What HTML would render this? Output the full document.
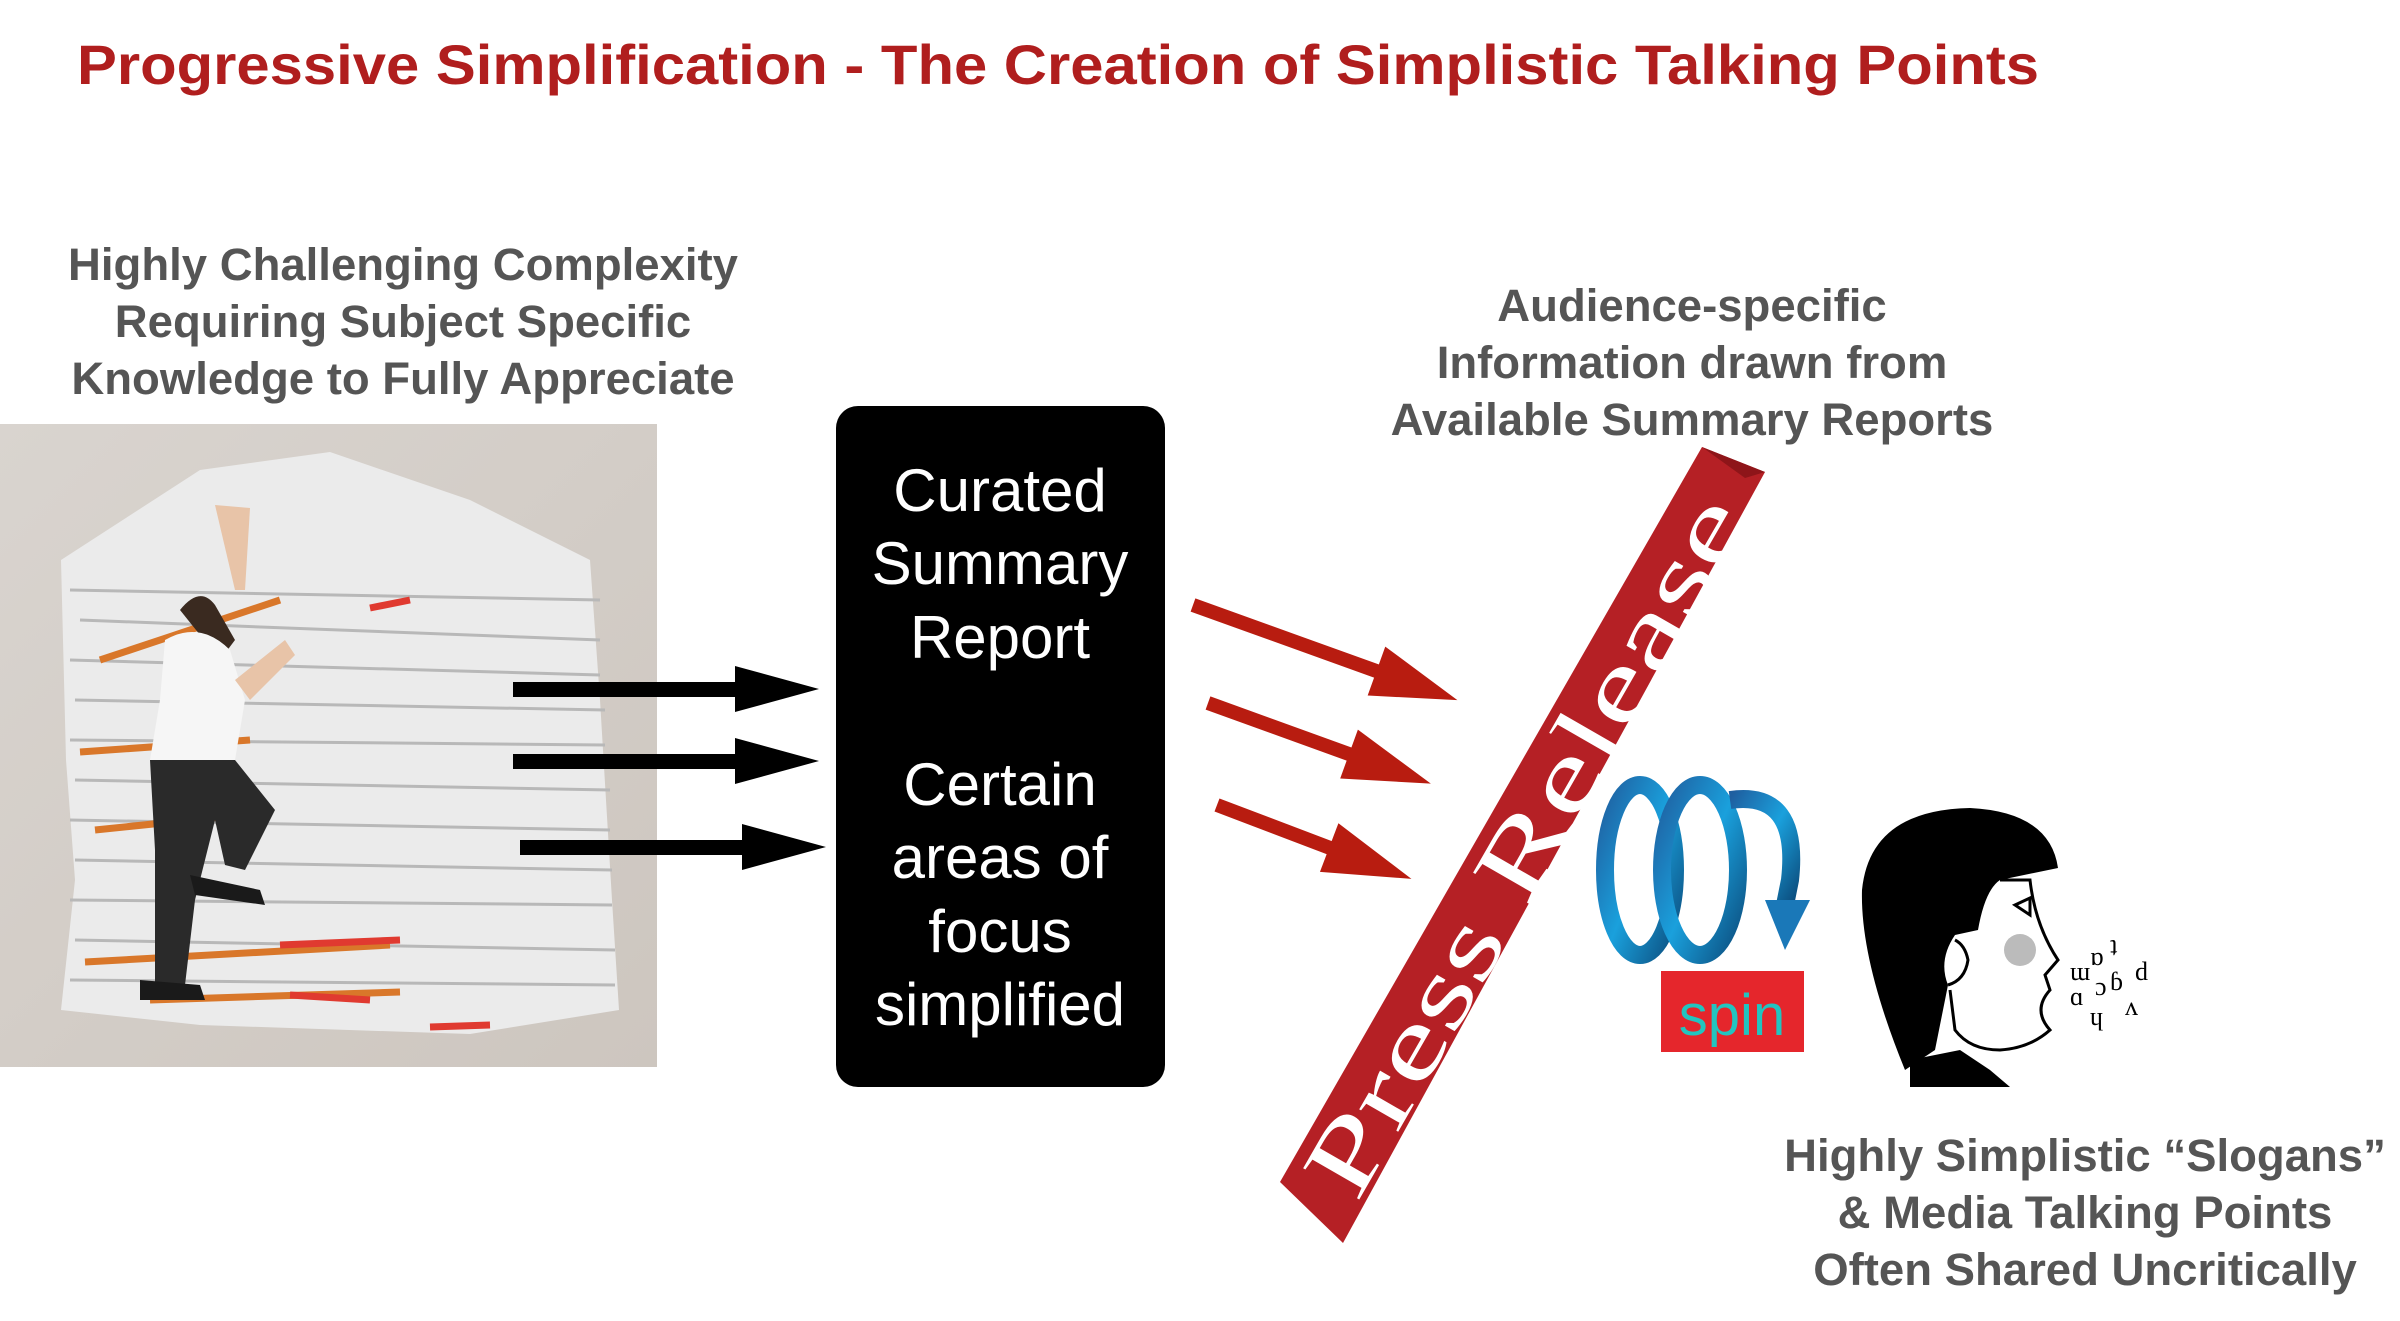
<!DOCTYPE html>
<html><head><meta charset="utf-8"><style>
html,body{margin:0;padding:0;background:#fff;width:2400px;height:1321px;overflow:hidden}
svg{display:block}
.g{font-family:"Liberation Sans",sans-serif;font-weight:bold;fill:#555}
</style></head><body>
<svg width="2400" height="1321" viewBox="0 0 2400 1321" xmlns="http://www.w3.org/2000/svg">
<defs>
<linearGradient id="bl" x1="0" y1="0" x2="1" y2="1"><stop offset="0" stop-color="#1f5fa0"/><stop offset="0.5" stop-color="#1aa0dc"/><stop offset="1" stop-color="#0c4f80"/></linearGradient>
<linearGradient id="bg" x1="0" y1="0" x2="1" y2="1"><stop offset="0" stop-color="#d9d4cf"/><stop offset="1" stop-color="#cdc6bf"/></linearGradient>
</defs>
<text x="77" y="84" font-family="Liberation Sans,sans-serif" font-weight="bold" font-size="56" fill="#b01e1e" textLength="1962" lengthAdjust="spacingAndGlyphs">Progressive Simplification - The Creation of Simplistic Talking Points</text>

<g class="g" font-size="45.5" text-anchor="middle">
<text x="403" y="280">Highly Challenging Complexity</text>
<text x="403" y="337">Requiring Subject Specific</text>
<text x="403" y="394">Knowledge to Fully Appreciate</text>
<text x="1692" y="321">Audience-specific</text>
<text x="1692" y="378">Information drawn from</text>
<text x="1692" y="435">Available Summary Reports</text>
<text x="2085" y="1171">Highly Simplistic “Slogans”</text>
<text x="2085" y="1228">&amp; Media Talking Points</text>
<text x="2085" y="1285">Often Shared Uncritically</text>
</g>

<!-- photo -->
<rect x="0" y="424" width="657" height="643" fill="url(#bg)"/>
<path d="M61,560 L200,470 L330,452 L470,500 L590,560 L600,700 L612,900 L619,1010 L470,1034 L200,1025 L61,1010 L75,880 L66,760 Z" fill="#ebebeb"/>
<g stroke="#b8b8b8" stroke-width="3" fill="none">
<path d="M70,590 L600,600"/><path d="M80,620 L600,640"/><path d="M70,660 L600,675"/><path d="M75,700 L605,710"/><path d="M70,740 L605,745"/><path d="M75,780 L610,790"/><path d="M70,820 L610,830"/><path d="M75,860 L612,870"/><path d="M70,900 L612,905"/><path d="M75,940 L615,950"/><path d="M70,980 L615,985"/>
</g>
<g stroke-width="7" fill="none">
<path d="M100,660 L280,600" stroke="#d9772a"/><path d="M80,752 L250,740" stroke="#d9772a"/><path d="M95,830 L240,815" stroke="#d9772a"/>
<path d="M85,962 L390,945" stroke="#d9772a"/><path d="M150,1000 L400,992" stroke="#d9772a"/>
<path d="M370,608 L410,600" stroke="#e03a30"/><path d="M280,945 L400,940" stroke="#e03a30"/><path d="M290,995 L370,1000" stroke="#e03a30"/><path d="M430,1027 L490,1025" stroke="#e03a30"/>
</g>
<!-- man -->
<path d="M180,610 Q200,585 215,605 L235,640 L220,660 Z" fill="#3a2a20"/>
<path d="M215,505 L250,508 L245,590 L235,590 Z" fill="#e8c4a8"/>
<path d="M165,640 Q200,620 230,650 L245,700 L235,760 L150,760 L160,700 Z" fill="#f6f6f6"/>
<path d="M150,760 L235,760 L275,810 L245,870 L225,865 L215,820 L195,900 L185,985 L155,985 L155,850 Z" fill="#2a2a2a"/>
<path d="M190,875 L260,890 L265,905 L195,895 Z" fill="#1a1a1a"/>
<path d="M140,980 L200,985 L205,1000 L140,1000 Z" fill="#1a1a1a"/>
<path d="M235,680 L285,640 L295,655 L250,700 Z" fill="#e8c4a8"/>

<!-- black arrows -->
<g fill="#000">
<rect x="513" y="682" width="245" height="15"/><path d="M735,666 L819,689 L735,712 Z"/>
<rect x="513" y="754" width="245" height="15"/><path d="M735,738 L819,761 L735,784 Z"/>
<rect x="520" y="840" width="245" height="15"/><path d="M742,824 L826,847 L742,870 Z"/>
</g>

<!-- black box -->
<rect x="836" y="406" width="329" height="681" rx="22" fill="#000"/>
<g font-family="Liberation Sans,sans-serif" font-size="60" fill="#fff" text-anchor="middle">
<text x="1000" y="511">Curated</text><text x="1000" y="584">Summary</text><text x="1000" y="658">Report</text>
<text x="1000" y="805">Certain</text><text x="1000" y="878">areas of</text><text x="1000" y="952">focus</text><text x="1000" y="1025">simplified</text>
</g>

<!-- red arrows -->
<g fill="#b81c10">
<g transform="translate(1193,605) rotate(19.8)"><rect x="0" y="-7" width="210" height="14"/><path d="M195,-26 L281,0 L195,26 Z"/></g>
<g transform="translate(1208,703) rotate(19.9)"><rect x="0" y="-7" width="160" height="14"/><path d="M150,-26 L237,0 L150,26 Z"/></g>
<g transform="translate(1217,805) rotate(20.8)"><rect x="0" y="-7" width="130" height="14"/><path d="M120,-26 L208,0 L120,26 Z"/></g>
</g>

<!-- press release band -->
<path d="M1702,447 L1765,472 L1343,1243 L1280,1182 Z" fill="#b52025"/>
<path d="M1702,447 L1765,472 L1745,478 Z" fill="#8e1519"/>
<text transform="translate(1525,845) rotate(-60.1)" text-anchor="middle" font-family="Liberation Serif,serif" font-size="98" fill="#fff" textLength="790" lengthAdjust="spacingAndGlyphs" y="33">Press  Release</text>

<!-- spiral -->
<g fill="none" stroke="url(#bl)" stroke-width="18">
<ellipse cx="1640" cy="870" rx="35" ry="85"/>
<ellipse cx="1700" cy="870" rx="38" ry="85"/>
<path d="M1730,800 Q1800,790 1790,880 L1785,905"/>
</g>
<path d="M1765,900 L1810,900 L1785,950 Z" fill="#1a78b8"/>
<rect x="1661" y="971" width="143" height="81" fill="#e5262c"/>
<text x="1732" y="1035" text-anchor="middle" font-family="Liberation Sans,sans-serif" font-size="58" fill="#22c4c0">spin</text>

<!-- head -->
<path d="M1905,1070 Q1860,960 1862,890 Q1870,810 1970,808 Q2050,812 2058,868 L2000,880 Q1985,890 1978,930 L1955,935 Q1938,960 1948,985 L1935,1050 Z" fill="#000"/>
<path d="M2000,880 L2030,880 Q2035,925 2058,960 L2045,975 L2050,990 Q2032,1010 2050,1030 Q2030,1048 2000,1050 Q1970,1050 1955,1030 L1950,990" fill="none" stroke="#000" stroke-width="3"/>
<path d="M1948,985 Q1965,980 1968,960 Q1965,945 1955,940" fill="none" stroke="#000" stroke-width="3"/>
<path d="M2015,905 L2030,898 L2030,915 Z" fill="none" stroke="#000" stroke-width="3"/>
<path d="M1910,1060 L1960,1050 L1990,1070 L2010,1087 L1910,1087 Z" fill="#000"/>
<circle cx="2020" cy="950" r="16" fill="#bbb"/>
<g font-family="Liberation Serif,serif" font-size="26" fill="#000">
<text x="2070" y="980">ɯ</text><text x="2090" y="965">ɒ</text><text x="2110" y="955">ʇ</text>
<text x="2070" y="1005">ɑ</text><text x="2095" y="995">ɔ</text><text x="2110" y="990">ɓ</text><text x="2135" y="980">d</text>
<text x="2090" y="1025">ɥ</text><text x="2125" y="1015">ʌ</text>
</g>
</svg>
</body></html>
